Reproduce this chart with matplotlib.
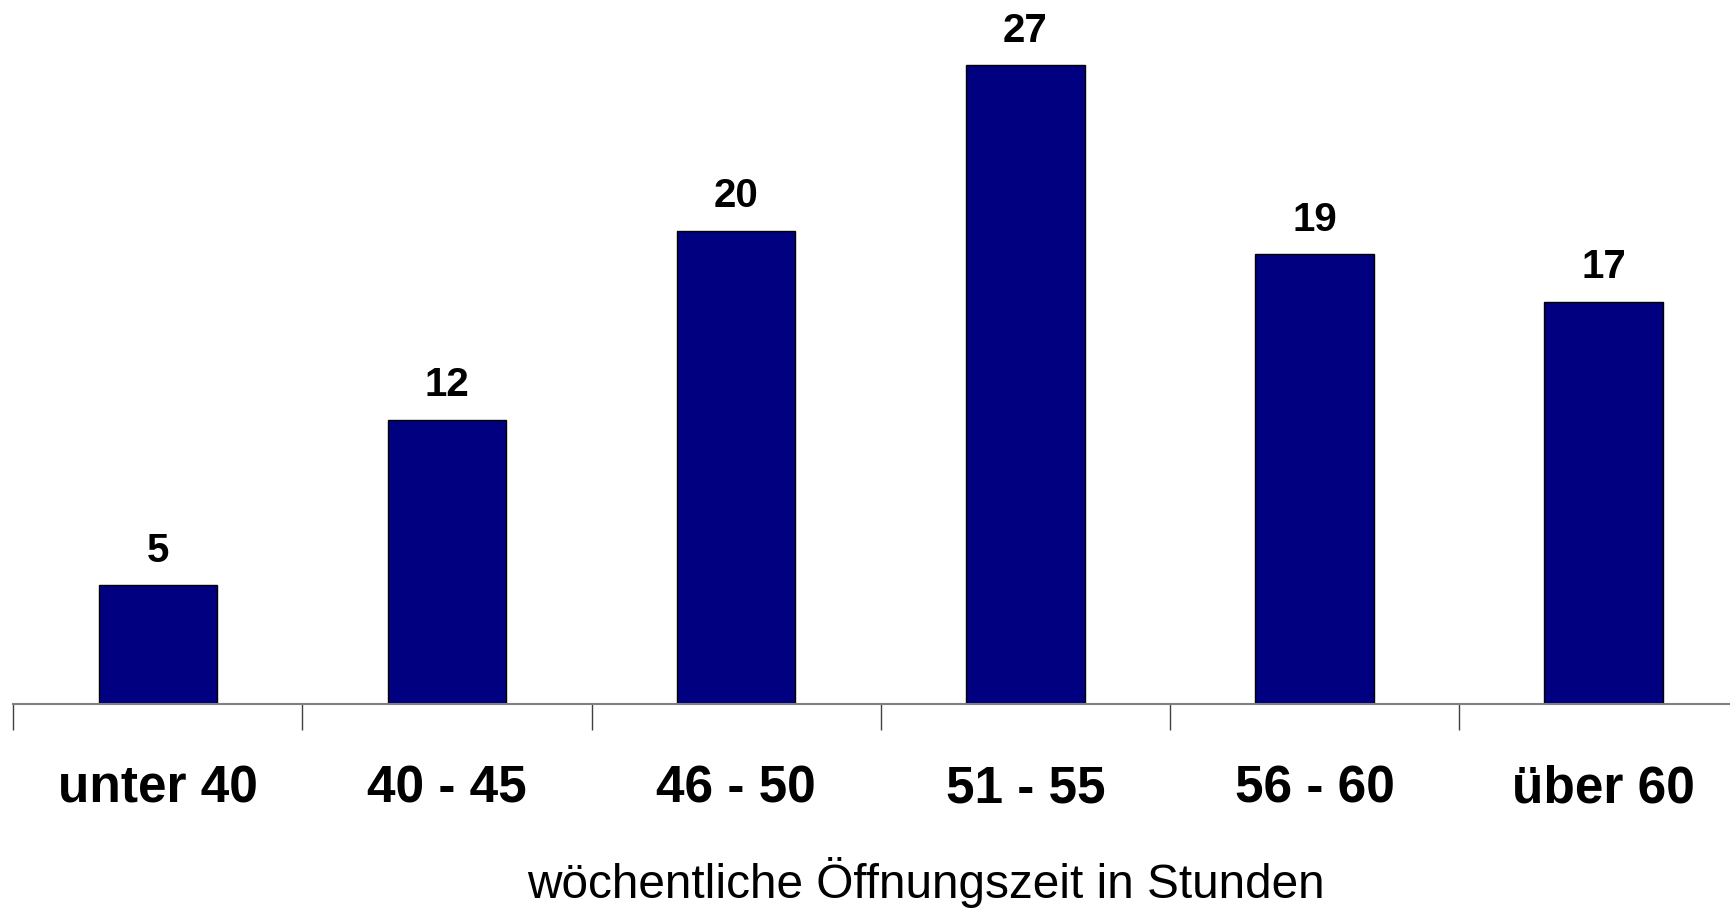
import matplotlib
matplotlib.use("Agg")
import matplotlib.pyplot as plt

categories = ["unter 40", "40 - 45", "46 - 50", "51 - 55", "56 - 60", "über 60"]
values = [5, 12, 20, 27, 19, 17]
xlabel = "wöchentliche Öffnungszeit in Stunden"

plt.rcParams["font.family"] = ["Liberation Sans", "DejaVu Sans"]

fig = plt.figure(figsize=(17.31, 9.10), dpi=100)
ax = fig.add_axes([0.00763, 0.2269, 1.0024, 0.7731])

x = list(range(len(categories)))
bars = ax.bar(x, values, width=0.41, color="#000080", edgecolor="black", linewidth=1.0)
ax.bar_label(bars, labels=[str(v) for v in values], padding=11,
             fontsize=29, fontweight="bold")

ax.set_xlim(-0.5, len(categories) - 0.5)
ax.set_ylim(0, 29.75)

for side in ["top", "right", "left"]:
    ax.spines[side].set_visible(False)
ax.spines["bottom"].set_color("#808080")
ax.spines["bottom"].set_linewidth(1.5)
ax.set_yticks([])

# ticks between categories, labels at category centres
ax.set_xticks([i - 0.5 for i in range(len(categories) + 1)])
ax.set_xticklabels([])
ax.tick_params(axis="x", which="major", length=19, width=1.0, color="#404040")
ax.set_xticks(x, minor=True)
ax.set_xticklabels(categories, minor=True, fontsize=37, fontweight="bold")
ax.tick_params(axis="x", which="minor", length=0, pad=44)

fig.text(926 / 1731, 27 / 910, xlabel, ha="center", va="center", fontsize=34.4)

fig.savefig("out.png", dpi=100)
